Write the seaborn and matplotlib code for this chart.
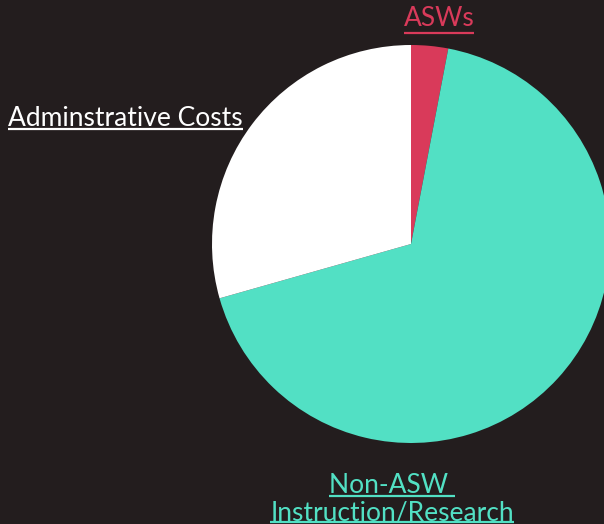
"""Budget split pie chart on dark background."""

import matplotlib

matplotlib.use("Agg")
import matplotlib.pyplot as plt
import seaborn as sns

# data
categories = ["ASWs", "Non-ASW \nInstruction/Research", "Adminstrative Costs"]
shares = [3.0, 67.6, 29.4]
colors = ["#d93a5a", "#52e0c4", "#ffffff"]

BG = "#231d1e"
H = 524

sns.set_theme(style="white")
plt.rcParams["font.family"] = ["Lato", "DejaVu Sans"]

fig = plt.figure(figsize=(6.04, 5.24), dpi=100, facecolor=BG)
ax = fig.add_axes([0, 0, 1, 1])
ax.set_facecolor(BG)

ax.pie(
    shares,
    colors=colors,
    startangle=90,
    counterclock=False,
    center=(411, H - 244),
    radius=199,
    wedgeprops={"linewidth": 0},
    frame=True,
)
ax.set_xlim(0, 604)
ax.set_ylim(0, H)
ax.set_aspect("equal")
ax.axis("off")

# label anchor (x, baseline from top), alignment, and underline offsets per line
label_pos = [
    (439, [26], "center", [7]),
    (392, [493, 520], "center", [3, 2]),
    (8, [126], "left", [3]),
]

fig.canvas.draw()
renderer = fig.canvas.get_renderer()
for name, col, (x, baselines, ha, offs) in zip(categories, colors, label_pos):
    for ln, yb, off in zip(name.split("\n"), baselines, offs):
        t = ax.text(x, H - yb, ln, color=col, fontsize=19, ha=ha, va="baseline")
        bb = t.get_window_extent(renderer).transformed(ax.transData.inverted())
        ax.plot([bb.x0, bb.x1], [H - yb - off] * 2, color=col, lw=1.6,
                solid_capstyle="butt")

fig.savefig("out.png", dpi=100, facecolor=BG)
